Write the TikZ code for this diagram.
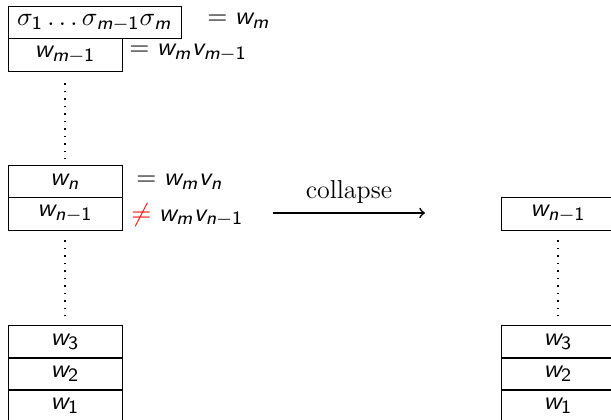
\documentclass[tikz,border=0pt]{standalone}
\DeclareMathAlphabet{\mathsfit}{OT1}{cmss}{m}{sl}
\DeclareMathAlphabet{\mathsfup}{OT1}{cmss}{m}{n}
\newcommand{\iw}{\mathsfit{w}}
\newcommand{\iv}{\mathsfit{v}}
\newcommand{\im}{\mathsfit{m}}
\newcommand{\inn}{\mathsfit{n}}
\newcommand{\one}{\mathsfup{1}}
\begin{document}
\begin{tikzpicture}[x=0.4237pt,y=-0.4237pt,
  every node/.style={font=\fontsize{11pt}{13pt}\selectfont},
  cell/.style={draw, minimum width=48.3pt, minimum height=13.77pt, inner sep=0pt},
  lbl/.style={anchor=west, inner sep=0pt},
  vdotline/.style={line width=0.8pt, dash pattern=on 0.8pt off 2.38pt, line cap=butt},
  maparrow/.style={->, line width=0.7pt}]
\useasboundingbox (0,0) rectangle (611,420);
\clip (0,0) rectangle (611,420);
% left stack
\node[cell, minimum width=73.3pt] (top) at (94.5,22.5) {$\sigma_{\one}\ldots\sigma_{\im-\one}\sigma_{\im}$};
\node[cell] (wm1) at (65,55) {$\iw_{\im-\one}$};
\node[cell] (wn) at (65,181.5) {$\iw_{\inn}$};
\node[cell] (wn1) at (65,214) {$\iw_{\inn-\one}$};
\node[cell] (w3) at (65,342) {$\iw_{\mathsfup{3}}$};
\node[cell] (w2) at (65,374) {$\iw_{\mathsfup{2}}$};
\node[cell] (w1) at (65,406) {$\iw_{\one}$};
% labels
\node[lbl] (l1) at (207,21) {$= \iw_{\im}$};
\node[lbl] (l2) at (129,53) {$= \iw_{\im}\iv_{\im-\one}$};
\node[lbl] (l3) at (136,182) {$= \iw_{\im}\iv_{\inn}$};
\node[lbl] (l4) at (131,215) {$\textcolor{red}{\neq}\; \iw_{\im}\iv_{\inn-\one}$};
% dots
\coordinate (d1a) at (65,83); \coordinate (d1b) at (65,158.5);
\coordinate (d2a) at (65,240); \coordinate (d2b) at (65,315.5);
\draw[vdotline] (d1a) -- (d1b);
\draw[vdotline] (d2a) -- (d2b);
% arrow
\coordinate (a1) at (273,213); \coordinate (a2) at (425,213);
\draw[maparrow] (a1) -- node[above=3.5pt, inner sep=0pt] (col) {collapse} (a2);
% right stack
\node[cell] (rwn1) at (558,214) {$\iw_{\inn-\one}$};
\node[cell] (rw3) at (558,342) {$\iw_{\mathsfup{3}}$};
\node[cell] (rw2) at (558,374) {$\iw_{\mathsfup{2}}$};
\node[cell] (rw1) at (558,406) {$\iw_{\one}$};
\coordinate (d3a) at (558,240); \coordinate (d3b) at (558,315.5);
\draw[vdotline] (d3a) -- (d3b);
\end{tikzpicture}
\end{document}
